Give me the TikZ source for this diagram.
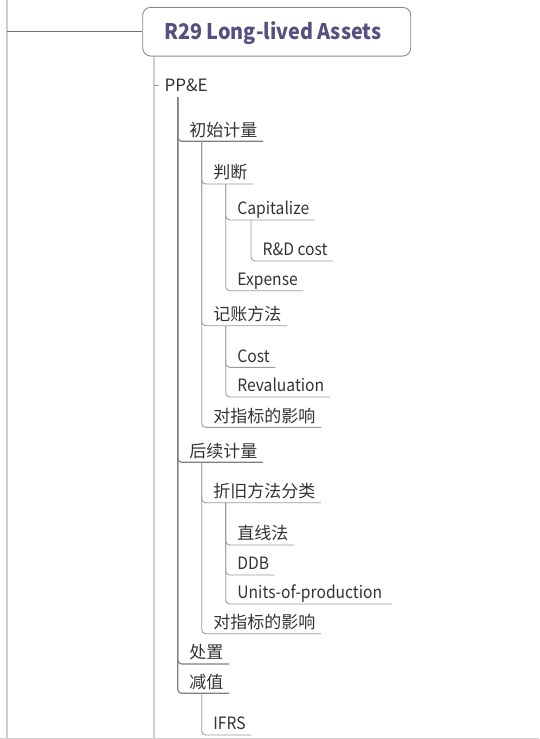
\documentclass[tikz,border=0pt]{standalone}
\usepackage{fontspec}
\setmainfont{Noto Sans CJK SC}
\newfontfamily\latinf[FakeStretch=0.92]{Noto Sans CJK SC}
\definecolor{textc}{HTML}{333333}
\definecolor{rootc}{RGB}{84,80,130}
\definecolor{boxc}{HTML}{8A8A8A}
\definecolor{linec}{HTML}{9A9A9A}
\definecolor{ppline}{HTML}{808080}
\definecolor{lightc}{HTML}{CFCFCF}
\definecolor{darkc}{HTML}{707070}
\begin{document}
\begin{tikzpicture}[x=1pt,y=-1pt,
  leaf/.style={anchor=south west, inner xsep=5.5pt, inner ysep=1pt,
    text height=12pt, text depth=4pt, font=\fontsize{17}{20}\selectfont, text=textc},
  lat/.style={leaf, font=\latinf\fontsize{17}{20}\selectfont},
  conn/.style={draw=linec, line width=0.9pt, rounded corners=4pt},
  ppconn/.style={draw=ppline, line width=1.2pt, rounded corners=4pt},
  lightln/.style={draw=lightc, line width=2pt},
  rootbox/.style={draw=boxc, line width=0.9pt, rounded corners=8pt, fill=white,
    minimum width=268pt, minimum height=48.7pt, inner sep=0pt,
    text height=15pt, text depth=-3pt,
    font=\latinf\fontsize{21.5}{26}\selectfont\bfseries, text=rootc}]
\useasboundingbox (0,0) rectangle (539,739);
% frame lines
\coordinate (lt) at (7,0);
\coordinate (lb) at (7,739);
\coordinate (bl) at (0,738.3);
\coordinate (br) at (539,738.3);
\draw[draw=lightc, line width=1.2pt] (bl) -- (br);
\draw[lightln] (lt) -- (lb);
% root
\node[rootbox] (root) at (276.7,31.7) {\hspace*{-8pt}R29 Long-lived Assets};
\draw[draw=darkc, line width=0.9pt] (root.west) -- (root.west -| lt);
\coordinate (rootend) at (154,739);
\draw[lightln] (root.south -| rootend) -- (rootend);
% PP&E
\node[anchor=base west, inner xsep=5pt, inner ysep=0pt,
  font=\fontsize{17}{20}\selectfont, text=textc] (ppe) at (159.3,91.7) {PP\&E};
\coordinate (ppdash) at (154,85.3);
\draw[conn] (ppdash) -- (ppdash -| ppe.west);
\coordinate (ppv) at (177.7,97);
% level 2
\node[leaf] (chushi) at (183.7,141.3) {初始计量};
\node[leaf] (houxu) at (183.7,462.3) {后续计量};
\node[leaf] (chuzhi) at (183.7,664) {处置};
\node[leaf] (jianzhi) at (183.7,693.3) {减值};
\foreach \n in {chushi,houxu,chuzhi,jianzhi}
  \draw[ppconn] (ppv) |- (\n.south east);
% under 初始计量
\node[leaf] (panduan) at (207.7,184) {判断};
\node[leaf] (jizhang) at (207.7,325.7) {记账方法};
\node[leaf] (yx1) at (207.7,427.3) {对指标的影响};
\foreach \n in {panduan,jizhang,yx1}
  \draw[conn] ([xshift=18pt]chushi.south west) |- (\n.south east);
% under 判断
\node[lat] (cap) at (231.7,220) {Capitalize};
\node[lat] (exp) at (231.7,290.7) {Expense};
\foreach \n in {cap,exp}
  \draw[conn] ([xshift=18pt]panduan.south west) |- (\n.south east);
% under Capitalize
\node[lat] (rd) at (257,261) {R\&D cost};
\draw[conn] ([xshift=19.3pt]cap.south west) |- (rd.south east);
% under 记账方法
\node[lat] (cost) at (231.7,367.3) {Cost};
\node[lat] (reval) at (231.7,397) {Revaluation};
\foreach \n in {cost,reval}
  \draw[conn] ([xshift=18pt]jizhang.south west) |- (\n.south east);
% under 后续计量
\node[leaf] (zhejiu) at (207.7,502.7) {折旧方法分类};
\node[leaf] (yx2) at (207.7,633.7) {对指标的影响};
\foreach \n in {zhejiu,yx2}
  \draw[conn] ([xshift=18pt]houxu.south west) |- (\n.south east);
% under 折旧方法分类
\node[leaf] (zhixian) at (231.7,545) {直线法};
\node[lat] (ddb) at (231.7,575) {DDB};
\node[lat, inner xsep=5.5pt] (units) at (231.7,604) {Units-of-production\hspace*{4pt}};
\foreach \n in {zhixian,ddb,units}
  \draw[conn] ([xshift=18pt]zhejiu.south west) |- (\n.south east);
% under 减值
\node[lat] (ifrs) at (207.7,735) {IFRS};
\draw[conn] ([xshift=18pt]jianzhi.south west) |- (ifrs.south east);
\end{tikzpicture}
\end{document}
